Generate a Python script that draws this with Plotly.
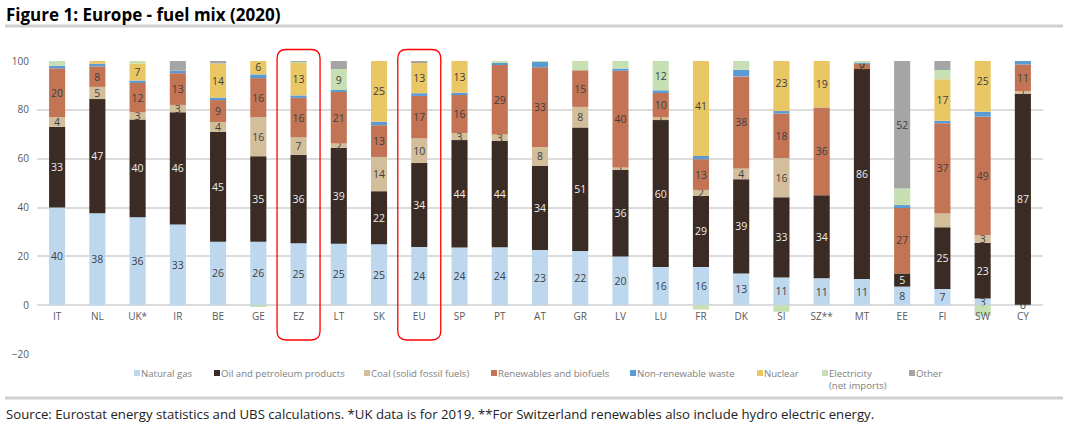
import plotly.graph_objects as go

# ---------------- data ----------------
countries = ["IT", "NL", "UK*", "IR", "BE", "GE", "EZ", "LT", "SK", "EU", "SP", "PT", "AT",
             "GR", "LV", "LU", "FR", "DK", "SI", "SZ**", "MT", "EE", "FI", "SW", "CY"]

natural_gas = [40, 37.6, 36, 33, 26, 26, 25.4, 25.2, 24.9, 23.8, 23.6, 23.7, 22.6,
               22.2, 19.9, 15.6, 15.6, 13, 11.3, 11, 10.7, 7.6, 6.6, 2.7, 0.2]
oil = [33, 46.8, 40, 46, 45, 35, 36.2, 39.2, 21.8, 34.4, 44.0, 43.6, 34.4,
       50.6, 35.6, 60.2, 29.2, 38.6, 32.9, 34, 86, 5.4, 25.3, 22.8, 86.6]
coal = [4, 5, 3, 3, 4, 16, 7.1, 1.8, 14, 10.1, 2.9, 2.6, 7.8,
        8.4, 0.9, 1.2, 2.4, 4.4, 16, 0, 0, 0, 5.6, 3.1, 0.8]
renewables = [20, 8.4, 12, 13, 9, 16, 16.2, 21.2, 13, 17.4, 15.8, 28.6, 32.6,
              15, 39.6, 9.9, 12.6, 37.7, 18.3, 36, 2.1, 27.2, 37, 48.6, 11]
waste = [1, 1.1, 1, 1, 1, 1.5, 1, 0.7, 1.4, 1.1, 0.7, 0.8, 2.2,
         0, 0.9, 1.1, 1.3, 2.7, 1, 0, 0.3, 0.8, 1, 2, 1.4]
nuclear = [0, 1.1, 7, 0, 14, 6, 13.4, 0, 24.9, 12.7, 13, 0, 0,
           0, 0, 0, 40.6, 0, 23.2, 19, 0, 0, 17, 25.2, 0]
electricity = [2, 0, 1, 0, 0, -0.5, 0.3, 8.6, 0, 0, 0, 0.7, 0.4,
               3.8, 3.1, 12, -1.8, 3.6, -2.7, 0, 0.9, 6.8, 3.8, -4.4, 0]
other = [0, 0, 0, 4, 1, 0, 0.4, 3.3, 0, 0.5, 0, 0, 0,
         0, 0, 0, 0, 0, 0, 0, 0, 52.2, 3.7, 0, 0]

series_names = ["Natural gas", "Oil and petroleum products", "Coal (solid fossil fuels)",
                "Renewables and biofuels", "Non-renewable waste", "Nuclear",
                "Electricity<br>(net imports)", "Other"]
series_values = [natural_gas, oil, coal, renewables, waste, nuclear, electricity, other]
series_colors = ["#BDD7EE", "#3A2C24", "#D3BE9B", "#C27455", "#5B9BD5", "#E8C764",
                 "#C6E0B4", "#A5A5A5"]
label_colors = ["#404040", "#EDEDED", "#404040", "#404040", "#404040", "#404040",
                "#404040", "#404040"]
# minimum value for a segment to carry a data label (None = never labelled)
label_min = [0.01, 0.01, 0.01, 0.01, None, 2, 8, 8]
unlabelled = [("Coal (solid fossil fuels)", "FI")]
extra_labelled = [("Non-renewable waste", "MT")]

highlighted = ["EZ", "EU"]
y_min, y_max = -20, 100

# ---------------- geometry helpers (layout only) ----------------
W, H = 1065, 431
L, R, T, B = 37, 22, 61, 77
pw = W - L - R
ph = H - T - B


def px(x):
    return (x - L) / pw


def py(y):
    return (H - B - y) / ph


FONT = "Open Sans, Noto Sans, sans-serif"

fig = go.Figure()
for name, vals, col, lcol, lmin in zip(series_names, series_values, series_colors,
                                       label_colors, label_min):
    texts = []
    for c, v in zip(countries, vals):
        show = lmin is not None and abs(v) >= lmin and (name, c) not in unlabelled
        show = show or ((name, c) in extra_labelled)
        texts.append(f"{v:.0f}" if show else "")
    fig.add_trace(go.Bar(
        x=countries, y=vals, name=name, marker_color=col, marker_line_width=0,
        text=texts, textposition="inside", insidetextanchor="middle",
        textangle=0, constraintext="none", cliponaxis=True,
        textfont=dict(family=FONT, size=10.5, color=lcol),
        showlegend=False,
    ))

fig.update_layout(
    width=W, height=H, barmode="relative", bargap=0.6,
    margin=dict(l=L, r=R, t=T, b=B),
    paper_bgcolor="white", plot_bgcolor="white",
    font=dict(family=FONT, size=10, color="#595959"),
    xaxis=dict(type="category", anchor="free",
               position=(0 - y_min) / (y_max - y_min),
               showgrid=False, showline=False, ticks="", zeroline=False,
               ticklabelstandoff=4,
               tickfont=dict(size=10, color="#595959")),
    yaxis=dict(range=[y_min, y_max], dtick=20, showgrid=True, gridcolor="#DCDCDC",
               gridwidth=1.5, zeroline=False, showline=False, ticks="",
               ticklabelstandoff=7, tickfont=dict(size=10, color="#595959")),
)

shapes = []
annotations = []

# title and rules
annotations.append(dict(xref="paper", yref="paper", x=px(4), y=py(14), xanchor="left",
                        yanchor="middle", showarrow=False,
                        text="<b>Figure 1: Europe - fuel mix (2020)</b>",
                        font=dict(family=FONT, size=17, color="#000000")))
for yline in (26, 398):
    shapes.append(dict(type="line", xref="paper", yref="paper", x0=px(5), x1=px(1063),
                       y0=py(yline), y1=py(yline), line=dict(color="#D0D0D0", width=3)))
annotations.append(dict(xref="paper", yref="paper", x=px(4), y=py(414), xanchor="left",
                        yanchor="middle", showarrow=False,
                        text="Source: Eurostat energy statistics and UBS calculations. "
                             "*UK data is for 2019. **For Switzerland renewables also "
                             "include hydro electric energy.",
                        font=dict(family=FONT, size=13.2, color="#222222")))

# legend (manual, to mimic the compact legend of the original)
legend_px = [134, 214, 364, 491, 630, 757, 822, 909]
for name, col, lx in zip(series_names, series_colors, legend_px):
    shapes.append(dict(type="rect", xref="paper", yref="paper", x0=px(lx), x1=px(lx + 6),
                       y0=py(376), y1=py(370), fillcolor=col, line=dict(width=0)))
    annotations.append(dict(xref="paper", yref="paper", x=px(lx + 5), y=py(365),
                            xanchor="left", yanchor="top", showarrow=False, align="left",
                            text=name, font=dict(family=FONT, size=9.6, color="#808080")))

# red rounded boxes around highlighted aggregates
step = pw / len(countries)
for c in highlighted:
    i = countries.index(c)
    cx = L + (i + 0.5) * step
    x0, x1, y0, y1, r = cx - 21.5, cx + 21.5, 49.5, 340, 9
    pts = [("M", x0 + r, y0), ("L", x1 - r, y0), ("Q", x1, y0, x1, y0 + r),
           ("L", x1, y1 - r), ("Q", x1, y1, x1 - r, y1), ("L", x0 + r, y1),
           ("Q", x0, y1, x0, y1 - r), ("L", x0, y0 + r), ("Q", x0, y0, x0 + r, y0)]
    path = ""
    for p in pts:
        cmd, coords = p[0], p[1:]
        seg = " ".join(f"{px(coords[k]):.5f},{py(coords[k + 1]):.5f}"
                       for k in range(0, len(coords), 2))
        path += f"{cmd}{seg} "
    shapes.append(dict(type="path", xref="paper", yref="paper", path=path + "Z",
                       line=dict(color="#FF0000", width=1.3)))

fig.update_layout(shapes=shapes, annotations=annotations)
fig.write_html("out.html")
